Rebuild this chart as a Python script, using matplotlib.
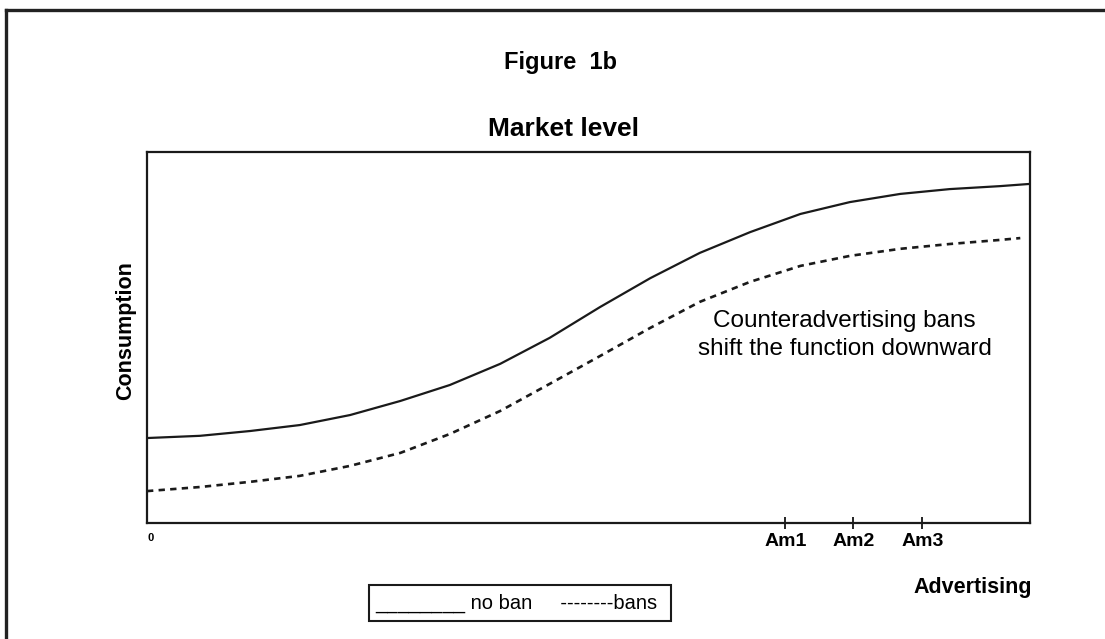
import matplotlib.pyplot as plt
from matplotlib.patches import Rectangle
from matplotlib.lines import Line2D

plt.rcParams['font.family'] = ['Liberation Sans', 'DejaVu Sans']

# advertising (0-100 scale) and consumption readings
adv_no_ban = [0, 6.0, 11.7, 17.3, 23.0, 28.7, 34.3, 40.0, 45.6, 51.3,
              57.0, 62.6, 68.3, 74.0, 79.6, 85.3, 90.9, 96.6, 100]
cons_no_ban = [22.9, 23.5, 24.8, 26.4, 29.1, 32.9, 37.2, 42.9, 49.9, 58.2,
               66.0, 72.8, 78.4, 83.3, 86.5, 88.7, 90.0, 90.8, 91.4]
adv_bans = [0, 6.0, 11.7, 17.3, 23.0, 28.7, 34.3, 40.0, 45.6, 51.3,
            57.0, 62.6, 68.3, 74.0, 79.6, 85.3, 90.9, 96.6, 98.9]
cons_bans = [8.6, 9.7, 11.1, 12.7, 15.4, 18.9, 24.0, 30.2, 37.5, 45.0,
             52.6, 59.6, 65.0, 69.3, 72.0, 73.9, 75.2, 76.3, 76.8]
tick_pos = [0, 72.3, 80.0, 87.8]
tick_labels = ['0', 'Am1', 'Am2', 'Am3']

W, H = 1105, 639
fig = plt.figure(figsize=(W / 100, H / 100), dpi=100)
ax = fig.add_axes([147 / W, 1 - 523 / H, (1030 - 147) / W, (523 - 152) / H])

ax.plot(adv_no_ban, cons_no_ban, color='#1a1a1a', lw=1.6, solid_joinstyle='round')
ax.plot(adv_bans, cons_bans, color='#1a1a1a', lw=1.9, dashes=(2.4, 2.0))
ax.set_xlim(0, 100)
ax.set_ylim(0, 100)

for s in ax.spines.values():
    s.set_linewidth(1.6)
    s.set_color('#1a1a1a')

ax.set_yticks([])
ax.set_xticks(tick_pos)
ax.set_xticklabels(tick_labels, fontweight='bold', fontsize=14)
ax.tick_params(axis='x', direction='inout', length=9, width=1.2, pad=3)
ticks = ax.xaxis.get_major_ticks()
ticks[0].tick1line.set_visible(False)
ticks[0].label1.set_fontsize(8)
ticks[0].label1.set_horizontalalignment('left')

ax.text(79.0, 50.7, 'Counteradvertising bans\nshift the function downward',
        ha='center', va='center', fontsize=17.5, linespacing=1.4)

fig.text(561 / W, 1 - 69 / H, 'Figure  1b', ha='center', va='baseline',
         fontsize=17, fontweight='bold')
fig.text(563 / W, 1 - 136 / H, 'Market level', ha='center', va='baseline',
         fontsize=19, fontweight='bold')
fig.text(126 / W, 1 - 331 / H, 'Consumption', ha='center', va='center',
         rotation=90, fontsize=15.5, fontweight='bold')
fig.text(1032 / W, 1 - 587 / H, 'Advertising', ha='right', va='center',
         fontsize=15.5, fontweight='bold')

# legend box drawn as text, like the original
fig.patches.append(Rectangle((369 / W, 1 - 621 / H), (671 - 369) / W, (621 - 585) / H,
                             transform=fig.transFigure, fill=False,
                             lw=1.5, edgecolor='#1a1a1a'))
fig.text(516 / W, 1 - 603 / H, '________ no ban     --------bans', ha='center',
         va='center', fontsize=14.5)

# outer frame (runs off the right and bottom edges)
fig.lines.append(Line2D([6 / W, 1.0], [1 - 9.5 / H, 1 - 9.5 / H],
                        transform=fig.transFigure, color='#222222', lw=2.4))
fig.lines.append(Line2D([6 / W, 6 / W], [0.0, 1 - 9.5 / H],
                        transform=fig.transFigure, color='#222222', lw=2.4))

fig.savefig('out.png', dpi=100)
